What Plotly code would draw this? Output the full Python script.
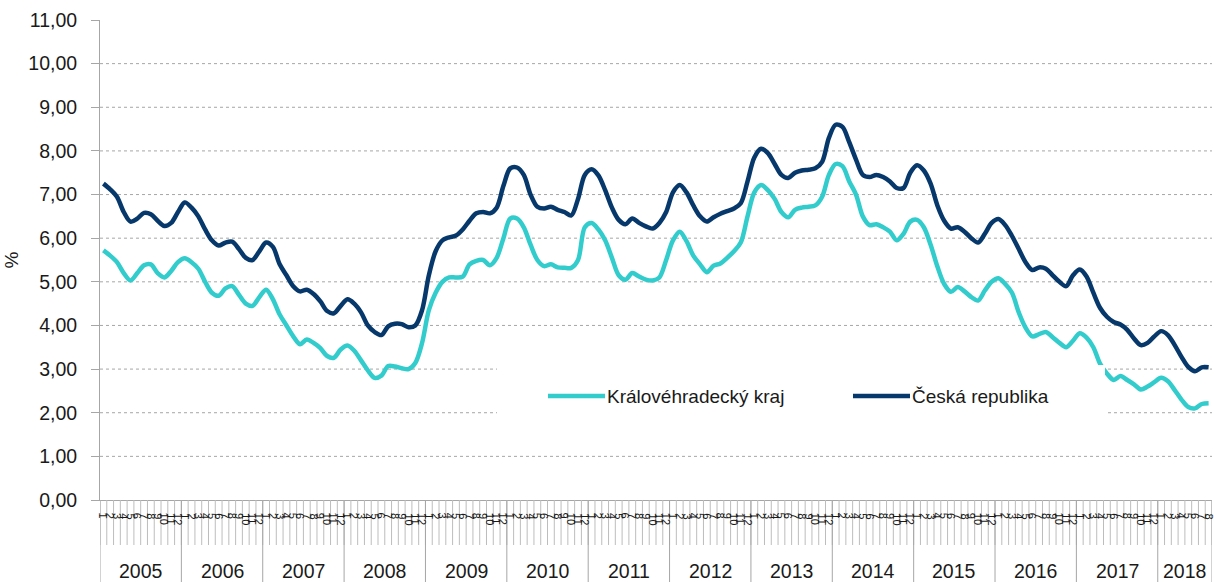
import plotly.graph_objects as go

# ---------------- data ----------------
years = ["2005", "2006", "2007", "2008", "2009", "2010", "2011",
         "2012", "2013", "2014", "2015", "2016", "2017", "2018"]
month_labels = ["1", "2", "3", "4", "5", "6", "7", "8", "9", "10", "11", "12"]
months_last_year = 8

khk = [
    5.72, 5.60, 5.45, 5.20, 5.03, 5.20, 5.38, 5.40, 5.20, 5.10, 5.25, 5.45,   # 2005
    5.54, 5.45, 5.30, 5.00, 4.75, 4.68, 4.85, 4.90, 4.70, 4.50, 4.45, 4.65,   # 2006
    4.82, 4.60, 4.25, 4.00, 3.75, 3.57, 3.68, 3.60, 3.48, 3.30, 3.26, 3.45,   # 2007
    3.54, 3.42, 3.20, 2.97, 2.80, 2.85, 3.07, 3.06, 3.02, 3.00, 3.14, 3.60,   # 2008
    4.35, 4.75, 5.00, 5.10, 5.10, 5.12, 5.40, 5.48, 5.50, 5.38, 5.55, 6.00,   # 2009
    6.45, 6.45, 6.25, 5.85, 5.50, 5.36, 5.40, 5.33, 5.32, 5.32, 5.50, 6.25,   # 2010
    6.35, 6.20, 5.95, 5.55, 5.15, 5.05, 5.20, 5.12, 5.05, 5.03, 5.10, 5.50,   # 2011
    5.95, 6.15, 5.93, 5.60, 5.40, 5.22, 5.37, 5.42, 5.55, 5.70, 5.90, 6.50,   # 2012
    7.05, 7.22, 7.10, 6.90, 6.60, 6.48, 6.65, 6.70, 6.72, 6.75, 6.95, 7.45,   # 2013
    7.70, 7.65, 7.30, 7.00, 6.50, 6.30, 6.32, 6.25, 6.15, 5.95, 6.10, 6.38,   # 2014
    6.42, 6.25, 5.85, 5.35, 4.95, 4.77, 4.88, 4.78, 4.65, 4.57, 4.80, 5.00,   # 2015
    5.08, 4.95, 4.75, 4.30, 3.95, 3.75, 3.80, 3.85, 3.73, 3.60, 3.50, 3.65,   # 2016
    3.82, 3.72, 3.50, 3.12, 2.90, 2.75, 2.84, 2.75, 2.65, 2.53, 2.60, 2.70,   # 2017
    2.80, 2.72, 2.52, 2.30, 2.13, 2.10, 2.20, 2.22,                           # 2018
]

cr = [
    7.25, 7.12, 6.95, 6.60, 6.38, 6.45, 6.58, 6.55, 6.40, 6.28, 6.35, 6.60,   # 2005
    6.82, 6.70, 6.50, 6.20, 5.95, 5.83, 5.90, 5.92, 5.75, 5.55, 5.50, 5.70,   # 2006
    5.90, 5.80, 5.40, 5.15, 4.90, 4.78, 4.82, 4.72, 4.55, 4.33, 4.28, 4.45,   # 2007
    4.60, 4.50, 4.30, 4.00, 3.85, 3.78, 3.98, 4.04, 4.03, 3.96, 4.00, 4.35,   # 2008
    5.15, 5.70, 5.95, 6.02, 6.06, 6.20, 6.40, 6.57, 6.60, 6.57, 6.70, 7.20,   # 2009
    7.60, 7.62, 7.45, 7.00, 6.72, 6.68, 6.72, 6.65, 6.60, 6.52, 6.90, 7.45,   # 2010
    7.58, 7.44, 7.10, 6.70, 6.42, 6.32, 6.45, 6.35, 6.27, 6.22, 6.35, 6.60,   # 2011
    7.05, 7.22, 7.05, 6.75, 6.50, 6.38, 6.48, 6.56, 6.62, 6.68, 6.80, 7.30,   # 2012
    7.85, 8.05, 7.95, 7.70, 7.45, 7.38, 7.50, 7.55, 7.57, 7.60, 7.75, 8.30,   # 2013
    8.60, 8.55, 8.20, 7.80, 7.45, 7.40, 7.45, 7.40, 7.30, 7.15, 7.15, 7.50,   # 2014
    7.67, 7.55, 7.25, 6.75, 6.40, 6.22, 6.25, 6.15, 6.00, 5.90, 6.10, 6.35,   # 2015
    6.44, 6.30, 6.05, 5.75, 5.45, 5.27, 5.33, 5.30, 5.15, 5.00, 4.90, 5.15,   # 2016
    5.28, 5.12, 4.75, 4.40, 4.20, 4.08, 4.02, 3.90, 3.70, 3.55, 3.60, 3.75,   # 2017
    3.87, 3.78, 3.55, 3.28, 3.05, 2.95, 3.04, 3.04,                           # 2018
]

series_names = ["Královéhradecký kraj", "Česká republika"]
series_colors = ["#33CCCC", "#06386B"]
y_ticks = list(range(0, 12))

# ---------------- figure ----------------
W, H = 1214, 582
ML, MR, MT, MB = 100, 2, 20, 82
PW, PH = W - ML - MR, H - MT - MB
FONT = "Liberation Sans"
TXT = "#1A1A1A"

def px_x(p):
    return (p - ML) / PW

def px_y(p):
    return (H - MB - p) / PH

n = len(cr)
x = list(range(n))
month_of = [month_labels[i % 12] for i in x]

fig = go.Figure()
for name, vals, col in zip(series_names, [khk, cr], series_colors):
    fig.add_trace(go.Scatter(
        x=x, y=vals, mode="lines", name=name, showlegend=False,
        line=dict(color=col, width=4.5, shape="spline", smoothing=0.9),
        hoverinfo="skip",
    ))

GRID = "#A6A6A6"
shapes = []
# dotted horizontal gridlines
for v in y_ticks[1:-1]:
    shapes.append(dict(type="line", xref="paper", yref="y", x0=0, x1=1, y0=v, y1=v,
                       line=dict(color=GRID, width=1, dash="dot"), layer="below"))
# month ticks under the axis
for i in range(n + 1):
    shapes.append(dict(type="line", xref="x", yref="paper", x0=i - 0.5, x1=i - 0.5,
                       y0=0, y1=px_y(545), line=dict(color="#BDBDBD", width=1)))
# year dividers
for k in range(len(years)):
    shapes.append(dict(type="line", xref="x", yref="paper", x0=12 * k - 0.5, x1=12 * k - 0.5,
                       y0=0, y1=px_y(H), line=dict(color=GRID, width=1)))
shapes.append(dict(type="line", xref="x", yref="paper", x0=n - 0.5, x1=n - 0.5,
                   y0=0, y1=px_y(H), line=dict(color=GRID, width=1)))

# legend box (white, over the plot)
shapes.append(dict(type="rect", xref="paper", yref="paper",
                   x0=px_x(497), x1=px_x(1105), y0=px_y(430), y1=px_y(365),
                   fillcolor="white", line=dict(width=0), layer="above"))
leg_y = px_y(396)
leg_items = [(548, 605, 605), (853, 910, 910)]
annotations = []
for (a, b, t), name, col in zip(leg_items, series_names, series_colors):
    shapes.append(dict(type="line", xref="paper", yref="paper", x0=px_x(a), x1=px_x(b),
                       y0=leg_y, y1=leg_y, line=dict(color=col, width=4.5), layer="above"))
    annotations.append(dict(xref="paper", yref="paper", x=px_x(t), y=leg_y, text=name,
                            showarrow=False, xanchor="left", yanchor="middle",
                            font=dict(size=19, color=TXT, family=FONT)))

# year labels
for k, yr in enumerate(years):
    cnt = 12 if k < len(years) - 1 else months_last_year
    annotations.append(dict(xref="x", yref="paper", x=12 * k + (cnt - 1) / 2, y=px_y(571),
                            text=yr, showarrow=False, xanchor="center", yanchor="middle",
                            font=dict(size=19.5, color=TXT, family=FONT)))
# month labels (small, rotated, crowded)
for i in x:
    annotations.append(dict(xref="x", yref="paper", x=i, y=px_y(511), text=month_of[i],
                            showarrow=False, textangle=90, xanchor="center", yanchor="top",
                            font=dict(size=11, color=TXT, family=FONT)))

fig.update_layout(
    width=W, height=H,
    margin=dict(l=ML, r=MR, t=MT, b=MB, pad=0),
    paper_bgcolor="white", plot_bgcolor="white",
    separators=", ",
    font=dict(family=FONT, color=TXT),
    shapes=shapes, annotations=annotations,
    xaxis=dict(range=[-0.5, n - 0.5], showticklabels=False, showgrid=False, zeroline=False,
               showline=True, linecolor=GRID, linewidth=1, ticks="", fixedrange=True),
    yaxis=dict(range=[0, 11], tickvals=y_ticks, tickformat=".2f", showgrid=False, zeroline=False,
               showline=True, linecolor=GRID, linewidth=1, ticks="outside", ticklen=8,
               tickcolor=GRID, ticklabelstandoff=10,
               tickfont=dict(size=19.5, color=TXT, family=FONT),
               title=dict(text="%", font=dict(size=19, color=TXT, family=FONT), standoff=4),
               automargin=False, fixedrange=True),
)

fig.write_html("out.html", config={"displayModeBar": False},
               post_script="document.body.style.margin='0px';")
